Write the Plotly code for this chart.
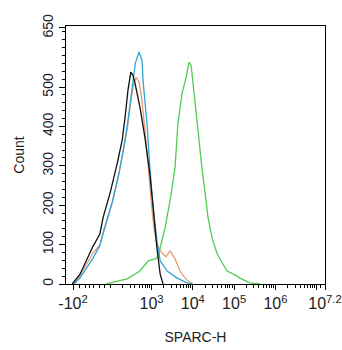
import plotly.graph_objects as go

# Histogram channels (log10 of SPARC-H intensity, biexponential display) and counts
black_pos = [1.08, 1.27, 1.58, 1.75, 1.83, 2.00, 2.17, 2.29, 2.36, 2.43, 2.50, 2.55, 2.60, 2.72, 2.84, 2.96, 3.04, 3.13, 3.21, 3.28]
black_cnt = [0, 25, 95, 127, 170, 232, 306, 365, 423, 492, 538, 530, 510, 449, 372, 280, 194, 92, 25, 0]

cyan_pos = [1.10, 1.27, 1.58, 1.75, 1.83, 2.06, 2.21, 2.33, 2.42, 2.49, 2.56, 2.61, 2.70, 2.77, 2.80, 2.89, 2.96, 3.04, 3.13, 3.21, 3.38, 3.62, 3.86, 4.00]
cyan_cnt = [0, 15, 65, 97, 130, 212, 280, 347, 408, 466, 525, 561, 589, 568, 510, 408, 296, 194, 110, 59, 33, 15, 3, 0]

orange_pos = [1.15, 1.58, 1.75, 1.85, 2.05, 2.20, 2.32, 2.42, 2.49, 2.56, 2.63, 2.70, 2.77, 2.84, 2.92, 2.99, 3.06, 3.13, 3.21, 3.28, 3.35, 3.45, 3.52, 3.57, 3.64, 3.69, 3.79, 3.88, 4.00]
orange_cnt = [0, 78, 100, 135, 207, 273, 339, 398, 456, 505, 525, 512, 466, 395, 301, 212, 140, 102, 84, 76, 69, 84, 74, 64, 46, 33, 18, 8, 0]

green_pos = [1.90, 2.41, 2.72, 2.92, 3.09, 3.16, 3.21, 3.33, 3.45, 3.57, 3.64, 3.74, 3.84, 3.91, 3.96, 4.00, 4.10, 4.22, 4.37, 4.47, 4.59, 4.71, 4.83, 5.02, 5.14, 5.38, 5.63]
green_cnt = [0, 13, 33, 59, 64, 69, 92, 143, 212, 296, 408, 484, 525, 563, 555, 510, 415, 296, 168, 115, 76, 54, 33, 23, 15, 3, 0]

# Axis ticks
x_tick_pos = [1.10, 3, 4, 5, 6, 7, 7.2]
x_tick_text = ["-10<sup>2</sup>", "10<sup>3</sup>", "10<sup>4</sup>", "10<sup>5</sup>",
               "10<sup>6</sup>", "", "10<sup>7.2</sup>"]
x_minor_pos = [1.25, 1.4, 1.5, 1.6, 1.75, 1.85, 2.0, 2.3, 2.48, 2.6, 2.7, 2.78, 2.85, 2.9, 2.95]
for dec in [3, 4, 5, 6]:
    for k in [0.30, 0.48, 0.60, 0.70, 0.78, 0.85, 0.90, 0.95]:
        x_minor_pos.append(round(dec + k, 2))
x_minor_pos += [7.1]

y_tick_pos = [0, 100, 200, 300, 400, 500, 650]

fig = go.Figure()
series = [
    (green_pos, green_cnt, "#52cc52"),
    (orange_pos, orange_cnt, "#e89a70"),
    (cyan_pos, cyan_cnt, "#2ea4d8"),
    (black_pos, black_cnt, "#111111"),
]
for xs, ys, col in series:
    fig.add_trace(go.Scatter(x=xs, y=ys, mode="lines",
                             line=dict(color=col, width=1.3), showlegend=False))

font = dict(family="Liberation Sans, Arial, sans-serif", size=14, color="#222222")

fig.update_layout(
    width=342, height=350,
    margin=dict(l=66, r=17, t=26, b=66),
    paper_bgcolor="white", plot_bgcolor="white",
    font=font,
    xaxis=dict(
        range=[0.93, 7.2], showgrid=False, zeroline=False, automargin=False,
        showline=True, linecolor="black", linewidth=1.2, mirror=True,
        tickmode="array", tickvals=x_tick_pos, ticktext=x_tick_text,
        ticks="outside", ticklen=5, tickcolor="black", tickwidth=1,
        tickfont=dict(size=16),
        minor=dict(tickmode="array", tickvals=x_minor_pos, ticks="outside",
                   ticklen=3, tickcolor="black", tickwidth=1),
        title=dict(text="SPARC-H", standoff=20, font=font),
    ),
    yaxis=dict(
        range=[0, 655], showgrid=False, zeroline=False, automargin=False,
        showline=True, linecolor="black", linewidth=1.2, mirror=True,
        tickmode="array", tickvals=y_tick_pos,
        ticks="outside", ticklen=6, tickcolor="black", tickwidth=1,
        tickangle=-90, tickfont=dict(size=14),
        minor=dict(dtick=20, ticks="outside", ticklen=3, tickcolor="black", tickwidth=1),
        title=dict(text="Count", standoff=12, font=font),
    ),
)

fig.write_html("out.html")
